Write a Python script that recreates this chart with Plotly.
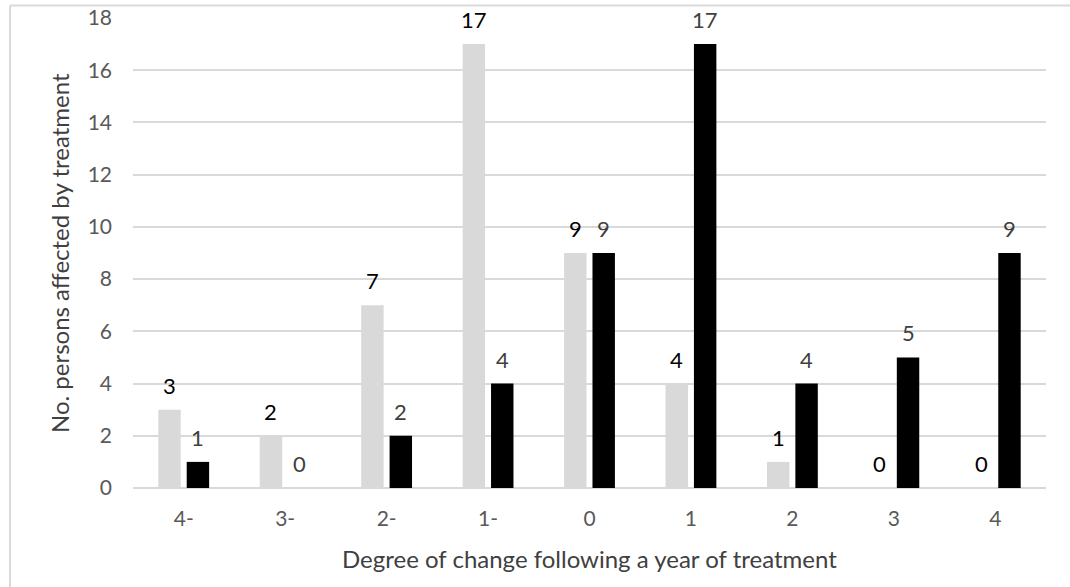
import plotly.graph_objects as go

categories = ["4-", "3-", "2-", "1-", "0", "1", "2", "3", "4"]
light_values = [3, 2, 7, 17, 9, 4, 1, 0, 0]
dark_values = [1, 0, 2, 4, 9, 17, 4, 5, 9]
y_ticks = [0, 2, 4, 6, 8, 10, 12, 14, 16, 18]

FONT = "Lato, Carlito, Calibri, sans-serif"
SLOT = 28.5  # distance between paired bar centres (px)

fig = go.Figure()
fig.add_trace(go.Bar(
    x=categories, y=light_values, name="Light",
    marker=dict(color="#d9d9d9", line=dict(width=0)),
))
fig.add_trace(go.Bar(
    x=categories, y=dark_values, name="Dark",
    marker=dict(color="#000000", line=dict(width=0)),
))

# value labels above each bar (category axis positions by index)
for i, (lv, dv) in enumerate(zip(light_values, dark_values)):
    fig.add_annotation(x=i, y=lv, xref="x", yref="y", text=str(lv),
                       xshift=-SLOT / 2, yshift=9, yanchor="bottom",
                       showarrow=False,
                       font=dict(family=FONT, size=22, color="#000000"))
    fig.add_annotation(x=i, y=dv, xref="x", yref="y", text=str(dv),
                       xshift=SLOT / 2, yshift=9, yanchor="bottom",
                       showarrow=False,
                       font=dict(family=FONT, size=22, color="#404040"))

fig.update_layout(
    width=1070, height=587,
    margin=dict(l=133, r=24, t=18, b=99),
    paper_bgcolor="white", plot_bgcolor="white",
    barmode="group", bargap=0.44, bargroupgap=0.21,
    showlegend=False,
    font=dict(family=FONT, size=20, color="#595959"),
    xaxis=dict(type="category", showgrid=False, showline=False, ticks="",
               ticklabelstandoff=16, automargin=False,
               tickfont=dict(family=FONT, size=21, color="#595959")),
    yaxis=dict(range=[0, 18], tickvals=y_ticks, showgrid=True, gridcolor="#d9d9d9",
               gridwidth=1.5, zeroline=True, zerolinecolor="#d9d9d9", zerolinewidth=1.5,
               showline=False, ticks="", ticklabelstandoff=20, automargin=False,
               tickfont=dict(family=FONT, size=21, color="#595959")),
)

fig.add_annotation(text="Degree of change following a year of treatment",
                   xref="paper", yref="paper", x=0.5, y=0, yanchor="middle",
                   yshift=-70, showarrow=False,
                   font=dict(family=FONT, size=24, color="#404040"))
fig.add_annotation(text="No. persons affected by treatment",
                   xref="paper", yref="paper", x=0, y=0.5, xanchor="center",
                   xshift=-74, textangle=-90, showarrow=False,
                   font=dict(family=FONT, size=24, color="#404040"))

# outer chart frame (left and top edges visible)
TOP = 1 + 12.5 / 470
LEFT = -123 / 913
fig.add_shape(type="line", xref="paper", yref="paper", layer="above",
              x0=LEFT, x1=1.05, y0=TOP, y1=TOP,
              line=dict(color="#d9d9d9", width=2))
fig.add_shape(type="line", xref="paper", yref="paper", layer="above",
              x0=LEFT, x1=LEFT, y0=TOP, y1=-0.3,
              line=dict(color="#d9d9d9", width=2))

fig.write_html("out.html", config={"displayModeBar": False},
               post_script="document.body.style.margin='0';")
